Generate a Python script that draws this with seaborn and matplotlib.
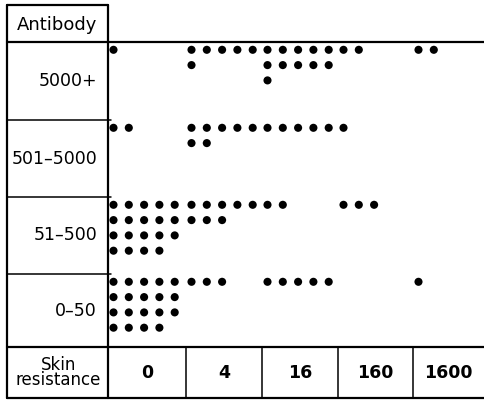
import numpy as np
import pandas as pd
import matplotlib
matplotlib.use("Agg")
import matplotlib.pyplot as plt
import seaborn as sns

# ---- data ----
antibody_levels = ["5000+", "501\u20135000", "51\u2013500", "0\u201350"]
skin_resistance = ["0", "4", "16", "160", "1600"]
counts_5000_plus = [1, 6, 11, 2, 2]
counts_501_5000 = [2, 7, 5, 1, 0]
counts_51_500 = [19, 8, 2, 3, 0]
counts_0_50 = [19, 3, 5, 0, 1]
all_counts = [counts_5000_plus, counts_501_5000, counts_51_500, counts_0_50]

# ---- layout (pixel coordinates) ----
W, H = 484, 401
col_edges = [108, 186, 262, 338, 413, 484]
row_edges = [42, 120, 197, 274, 347]
bottom = 398
top = 5
left = 7
per_row = 5
step = 15.3
x_off = 5.5
y_off = 7.8

recs = []
for ri, counts in enumerate(all_counts):
    for ci, n in enumerate(counts):
        for k in range(n):
            recs.append({
                "x": col_edges[ci] + x_off + (k % per_row) * step,
                "y": row_edges[ri] + y_off + (k // per_row) * step,
                "antibody": antibody_levels[ri],
                "skin": skin_resistance[ci],
            })
df = pd.DataFrame(recs)

sns.set_style("white")
plt.rcParams["font.family"] = ["DejaVu Sans"]
plt.rcParams["text.color"] = "black"

fig = plt.figure(figsize=(W / 100, H / 100), dpi=100)
ax = fig.add_axes([0, 0, 1, 1])
sns.scatterplot(data=df, x="x", y="y", color="black", s=34, edgecolor="none",
                ax=ax, legend=False)
ax.set_xlim(0, W)
ax.set_ylim(H, 0)
ax.axis("off")

lw_main = 1.6
lw_thin = 1.1
k = "black"
# left column box
ax.plot([left, left], [top, bottom], color=k, lw=lw_main)
ax.plot([col_edges[0], col_edges[0]], [top, bottom], color=k, lw=lw_main)
ax.plot([left, col_edges[0]], [top, top], color=k, lw=lw_main)
ax.plot([left, W], [row_edges[0], row_edges[0]], color=k, lw=lw_main)
for yb in row_edges[1:-1]:
    ax.plot([left, col_edges[0] + 3], [yb, yb], color=k, lw=lw_thin)
ax.plot([left, W], [row_edges[-1], row_edges[-1]], color=k, lw=lw_main)
ax.plot([left, W], [bottom, bottom], color=k, lw=lw_main)
for xb in col_edges[1:-1]:
    ax.plot([xb, xb], [row_edges[-1], bottom], color=k, lw=lw_thin)

fs = 12.5
# texts
ax.text((left + col_edges[0]) / 2, (top + row_edges[0]) / 2 + 1, "Antibody",
        ha="center", va="center", fontsize=fs + 0.5, color="black")
for ri, lab in enumerate(antibody_levels):
    yc = (row_edges[ri] + row_edges[ri + 1]) / 2
    ax.text(97, yc, lab, ha="right", va="center", fontsize=fs, color="black")
ax.text((left + col_edges[0]) / 2 + 1, (row_edges[-1] + bottom) / 2, "Skin\nresistance",
        ha="center", va="center", fontsize=fs - 0.5, linespacing=0.8, color="black")
for ci, lab in enumerate(skin_resistance):
    xc = (col_edges[ci] + col_edges[ci + 1]) / 2
    ax.text(xc, (row_edges[-1] + bottom) / 2, lab, ha="center", va="center",
            fontsize=fs, fontweight="bold", color="black")

fig.savefig("out.png", dpi=100)
